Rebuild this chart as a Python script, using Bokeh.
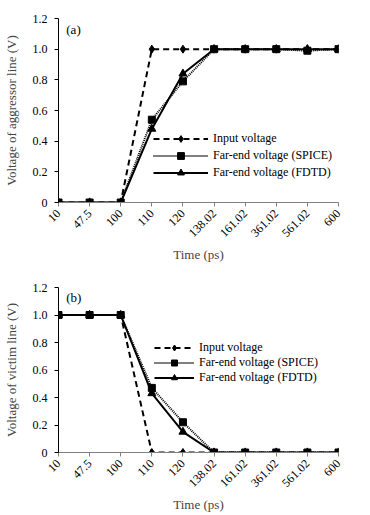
import math
from bokeh.plotting import figure
from bokeh.layouts import column
from bokeh.models import Range1d, FixedTicker, Label, Legend, LegendItem, PrintfTickFormatter
from bokeh.embed import file_html
from bokeh.resources import INLINE

times = ["10", "47.5", "100", "110", "120", "138.02", "161.02", "361.02", "561.02", "600"]
xs = list(range(len(times)))

a_input = [0, 0, 0, 1.0, 1.0, 1.0, 1.0, 1.0, 1.0, 1.0]
a_spice = [0, 0, 0, 0.54, 0.79, 1.0, 1.0, 1.0, 0.99, 1.0]
a_fdtd = [0, 0, 0, 0.48, 0.84, 1.0, 1.0, 1.0, 1.0, 1.0]

b_input = [1.0, 1.0, 1.0, 0, 0, 0, 0, 0, 0, 0]
b_spice = [1.0, 1.0, 1.0, 0.47, 0.22, 0, 0, 0, 0, 0]
b_fdtd = [1.0, 1.0, 1.0, 0.43, 0.15, 0, 0, 0, 0, 0]

y_ticks = [0, 0.2, 0.4, 0.6, 0.8, 1.0, 1.2]
series_names = ["Input voltage", "Far-end voltage (SPICE)", "Far-end voltage (FDTD)"]

FONT = "Liberation Serif"


def make_panel(tag, ylabel, ys, height, top, bottom, legend_loc, glyph_w, row_h):
    p = figure(width=362, height=height, output_backend="svg", toolbar_location=None,
               x_range=Range1d(0, len(times) - 1), y_range=Range1d(0, 1.2),
               min_border_left=55, min_border_right=24, min_border_top=top,
               min_border_bottom=bottom)
    p.outline_line_color = None
    p.xgrid.visible = False
    p.ygrid.visible = False
    p.background_fill_color = "white"
    p.border_fill_color = "white"

    xa = p.xaxis[0]
    xa.ticker = FixedTicker(ticks=xs)
    xa.major_label_overrides = {i: t for i, t in enumerate(times)}
    xa.major_label_orientation = math.pi / 4
    xa.major_tick_in = 0
    xa.major_tick_out = 4
    xa.minor_tick_line_color = None
    xa.axis_line_color = "#808080"
    xa.major_tick_line_color = "#808080"
    xa.major_label_text_font = FONT
    xa.major_label_text_font_size = "12px"
    xa.major_label_text_color = "black"
    xa.axis_label = "Time (ps)"
    xa.axis_label_text_font = FONT
    xa.axis_label_text_font_size = "13px"
    xa.axis_label_text_font_style = "normal"
    xa.axis_label_standoff = 4

    ya = p.yaxis[0]
    ya.ticker = FixedTicker(ticks=y_ticks)
    ya.formatter = PrintfTickFormatter(format="%.1f")
    ya.major_label_overrides = {0: "0"}
    ya.major_tick_in = 0
    ya.major_tick_out = 4
    ya.minor_tick_line_color = None
    ya.axis_line_color = "black"
    ya.major_label_standoff = 7
    ya.major_label_text_font = FONT
    ya.major_label_text_font_size = "12px"
    ya.major_label_text_color = "black"
    ya.axis_label = ylabel
    ya.axis_label_text_font = FONT
    ya.axis_label_text_font_size = "13px"
    ya.axis_label_text_font_style = "normal"
    ya.axis_label_standoff = 11

    yi, ys_, yf = ys
    l1 = p.line(xs, yi, line_color="black", line_width=2, line_dash="6 4")
    m1 = p.scatter(xs, yi, marker="diamond", size=8, fill_color="black", line_color="black")
    l2 = p.line(xs, ys_, line_color="black", line_width=2, line_dash="1 1")
    m2 = p.scatter(xs, ys_, marker="square", size=7, fill_color="black", line_color="black")
    l3 = p.line(xs, yf, line_color="black", line_width=2)
    m3 = p.scatter(xs, yf, marker="triangle", size=8, fill_color="black", line_color="black")

    legend = Legend(items=[
        LegendItem(label=series_names[0], renderers=[l1, m1]),
        LegendItem(label=series_names[1], renderers=[l2, m2]),
        LegendItem(label=series_names[2], renderers=[l3, m3]),
    ], location=legend_loc)
    legend.border_line_color = None
    legend.background_fill_alpha = 0
    legend.padding = 0
    legend.margin = 0
    legend.spacing = 0
    legend.glyph_width = glyph_w
    legend.glyph_height = row_h
    legend.label_height = row_h
    legend.label_standoff = 5
    legend.label_text_font = FONT
    legend.label_text_font_size = "12px"
    legend.label_text_color = "black"
    p.add_layout(legend)

    p.add_layout(Label(x=0.25, y=1.13, text=tag, text_font=FONT, text_font_size="13px",
                       text_baseline="middle", text_color="black"))
    return p


pa = make_panel("(a)", "Voltage of aggressor line (V)", (a_input, a_spice, a_fdtd),
                height=265, top=18, bottom=60, legend_loc=(95, 21), glyph_w=55, row_h=17)
pb = make_panel("(b)", "Voltage of victim line (V)", (b_input, b_spice, b_fdtd),
                height=250, top=22, bottom=61, legend_loc=(96, 67), glyph_w=40, row_h=15)

layout = column(pa, pb, spacing=0)
open("out.html", "w").write(file_html(layout, INLINE))
